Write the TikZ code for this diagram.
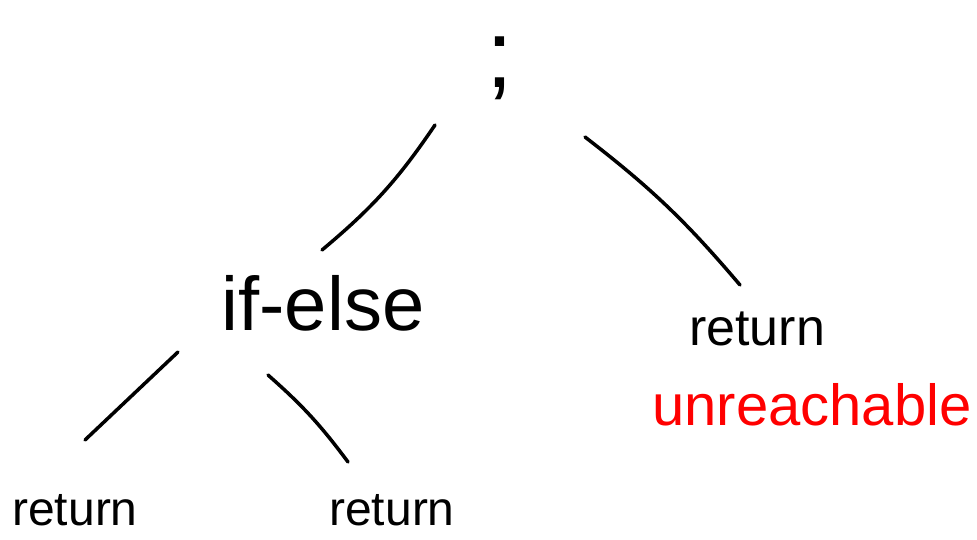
\documentclass[tikz,border=0pt]{standalone}
\usepackage{fontspec}
\setmainfont{Liberation Sans}
\usetikzlibrary{positioning}
\definecolor{dead}{HTML}{FF0000}
\tikzset{
  tok/.style={inner sep=0pt, anchor=base, font=\fontsize{52}{56}\selectfont},
  deadlbl/.style={tok, text=dead, font=\fontsize{58}{62}\selectfont},
  edge/.style={line width=3.5pt, line cap=round},
}

\begin{document}
\begin{tikzpicture}[x=1pt,y=-1pt]
  \useasboundingbox (0,0) rectangle (977,540);
  % statement sequence and its two children
  \node[tok, font=\fontsize{96}{100}\selectfont] (semi) at (500,88) {;};
  \node[tok, font=\fontsize{76}{80}\selectfont] (ifelse) at (323,330) {if-else};
  \node[tok] (retB) at (757,345) {return};
  \node[deadlbl] (dead) at (812,425) {unreachable};
  % branches of the if-else
  \node[tok, font=\fontsize{48}{52}\selectfont] (retT) at (75,525) {return};
  \node[tok, font=\fontsize{48}{52}\selectfont] (retF) at (392,525) {return};

  \draw[edge] ([shift={(-65,37)}]semi.base) to[bend left=8] ([shift={(-1,-80)}]ifelse.base);
  \draw[edge] ([shift={(85,49)}]semi.base) to[bend left=6] ([shift={(-17,-60)}]retB.base);
  \draw[edge] ([shift={(-145,22)}]ifelse.base) -- ([shift={(10,-85)}]retT.base);
  \draw[edge] ([shift={(-55,45)}]ifelse.base) to[bend left=6] ([shift={(-44,-63)}]retF.base);
\end{tikzpicture}
\end{document}
